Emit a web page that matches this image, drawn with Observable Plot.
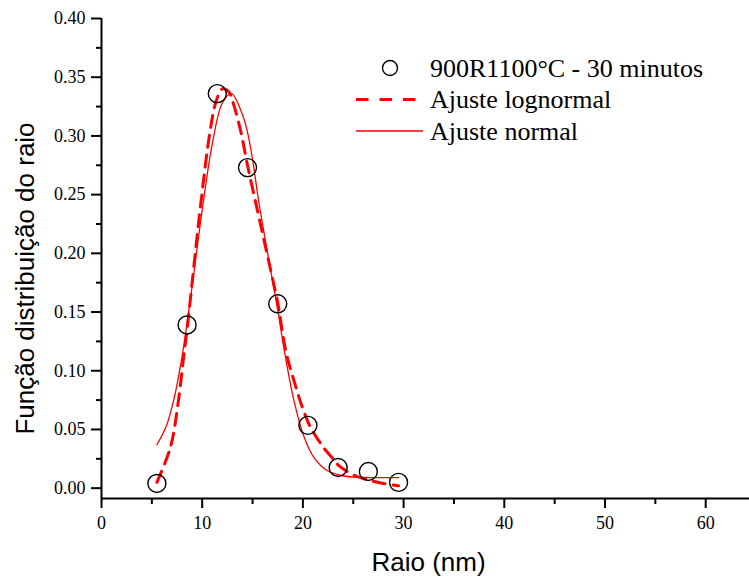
<!DOCTYPE html>
<html>
<head>
<meta charset="utf-8">
<script src="https://cdn.jsdelivr.net/npm/d3@7"></script>
<script src="https://cdn.jsdelivr.net/npm/@observablehq/plot@0.6"></script>
<style>
  html, body { margin: 0; padding: 0; background: #fff; }
  #chart svg { display: block; }
</style>
</head>
<body>
<div id="chart"></div>
<script>
// Measured size distribution (circles)
const raio = [5.5, 8.5, 11.5, 14.5, 17.5, 20.5, 23.5, 26.5, 29.5];
const distribuicao = [0.004, 0.139, 0.336, 0.273, 0.157, 0.0535, 0.0176, 0.0142, 0.0049];

// Lognormal fit curve (dashed)
const lognormalX = [5.5, 6.85, 7.6, 8.2, 8.5, 9.0, 9.8, 10.8, 11.4, 12.0, 12.6, 13.0, 13.8, 14.5, 15.5, 16.3, 17.1, 17.5, 18.3, 19.1, 19.9, 20.75, 22.1, 23.1, 23.6, 25.1, 27.4, 29.5];
const lognormalY = [0.005, 0.035, 0.072, 0.115, 0.135, 0.175, 0.238, 0.305, 0.330, 0.340, 0.338, 0.330, 0.305, 0.275, 0.236, 0.205, 0.174, 0.158, 0.117, 0.092, 0.070, 0.052, 0.034, 0.024, 0.019, 0.011, 0.005, 0.002];

// Normal (gaussian) fit curve (solid)
const normalX = [5.5, 6.4, 7.2, 8.0, 8.5, 9.0, 10.0, 11.0, 12.0, 12.9, 14.0, 14.5, 15.0, 15.6, 16.5, 17.5, 18.1, 19.1, 20.1, 21.1, 22.4, 23.7, 25.0, 27.0, 29.5];
const normalY = [0.037, 0.052, 0.076, 0.112, 0.141, 0.172, 0.237, 0.293, 0.328, 0.336, 0.318, 0.303, 0.280, 0.245, 0.200, 0.152, 0.120, 0.075, 0.044, 0.026, 0.015, 0.011, 0.0095, 0.009, 0.009];

// Axis ticks
const xTicks = [0, 10, 20, 30, 40, 50, 60];
const xMinorTicks = [5, 15, 25, 35, 45, 55];
const yTicks = [0, 0.05, 0.10, 0.15, 0.20, 0.25, 0.30, 0.35, 0.40];
const yMinorTicks = [0.025, 0.075, 0.125, 0.175, 0.225, 0.275, 0.325, 0.375];

const xLabel = "Raio (nm)";
const yLabel = "Função distribuição do raio";
const legendItems = [
  {label: "900R1100°C - 30 minutos", kind: "circle"},
  {label: "Ajuste lognormal", kind: "dashed"},
  {label: "Ajuste normal", kind: "solid"}
];

const xDomain = [0, 64.35];
const yDomain = [-0.0088, 0.40];

const points = raio.map((x, i) => ({x, y: distribuicao[i]}));
const lognormal = lognormalX.map((x, i) => ({x, y: lognormalY[i]}));
const normal = normalX.map((x, i) => ({x, y: normalY[i]}));

const serif = "Liberation Serif, Times New Roman, serif";
const sans = "Liberation Sans, Arial, sans-serif";
const red = "#ff0000";
const noLabel = () => "";

const chart = Plot.plot({
  width: 749,
  height: 577,
  marginLeft: 101,
  marginRight: 0,
  marginTop: 18,
  marginBottom: 79,
  x: {domain: xDomain},
  y: {domain: yDomain},
  style: {background: "#fff", color: "#000"},
  marks: [
    // tick marks (major and minor), labels drawn separately in serif
    Plot.axisX(xTicks, {tickSize: 10, strokeWidth: 2, tickFormat: noLabel, label: null}),
    Plot.axisX(xMinorTicks, {tickSize: 6, strokeWidth: 2, tickFormat: noLabel, label: null}),
    Plot.axisY(yTicks, {tickSize: 10, strokeWidth: 2, tickFormat: noLabel, label: null}),
    Plot.axisY(yMinorTicks, {tickSize: 5, strokeWidth: 2, tickFormat: noLabel, label: null}),
    Plot.text(xTicks, {x: d => d, y: yDomain[0], text: d => String(d), dy: 18, lineAnchor: "top", textAnchor: "middle", fontSize: 18, fontFamily: serif, fill: "#000"}),
    Plot.text(yTicks, {x: xDomain[0], y: d => d, text: d3.format(".2f"), dx: -16, textAnchor: "end", fontSize: 18, fontFamily: serif, fill: "#000"}),
    Plot.ruleX([xDomain[0]], {y1: yDomain[0], y2: yDomain[1], stroke: "#000", strokeWidth: 2}),
    Plot.ruleY([yDomain[0]], {stroke: "#000", strokeWidth: 2}),
    Plot.line(normal, {x: "x", y: "y", stroke: red, strokeWidth: 1.3, curve: "catmull-rom"}),
    Plot.line(lognormal, {x: "x", y: "y", stroke: red, strokeWidth: 3, strokeDasharray: "12,8", curve: "catmull-rom"}),
    Plot.dot(points, {x: "x", y: "y", r: 9, stroke: "#000", strokeWidth: 1.4, fill: "none"}),
    Plot.text([xLabel], {frameAnchor: "bottom", dx: 3, dy: 72, lineAnchor: "bottom", textAnchor: "middle", fontSize: 26, fontFamily: sans}),
    Plot.text([yLabel], {frameAnchor: "left", dx: -68, dy: 20, rotate: -90, lineAnchor: "bottom", textAnchor: "middle", fontSize: 26, fontFamily: sans})
  ]
});

document.getElementById("chart").appendChild(chart);

// Legend inside the plot area, top right
const svg = d3.select(chart);
const legend = svg.append("g").attr("transform", "translate(356,68)");
legendItems.forEach((item, i) => {
  const g = legend.append("g").attr("transform", `translate(0,${i * 31.5})`);
  if (item.kind === "circle") {
    g.append("circle").attr("cx", 34).attr("cy", 0).attr("r", 7.5)
      .attr("fill", "none").attr("stroke", "#000").attr("stroke-width", 1.4);
  } else if (item.kind === "dashed") {
    g.append("line").attr("x1", 0).attr("x2", 60).attr("y1", 0).attr("y2", 0)
      .attr("stroke", red).attr("stroke-width", 3).attr("stroke-dasharray", "12.5,11");
  } else {
    g.append("line").attr("x1", 0).attr("x2", 67).attr("y1", 0).attr("y2", 0)
      .attr("stroke", red).attr("stroke-width", 1.3);
  }
  g.append("text").attr("x", 74).attr("y", 8.5)
    .attr("text-anchor", "start")
    .attr("font-family", serif).attr("font-size", 26).attr("fill", "#000")
    .text(item.label);
});
</script>
</body>
</html>
